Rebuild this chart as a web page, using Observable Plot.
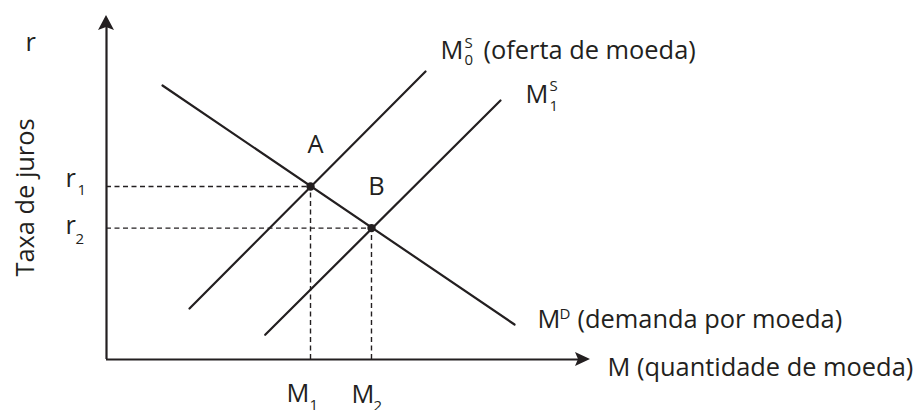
<!DOCTYPE html>
<html><head><meta charset="utf-8">
<script src="https://cdn.jsdelivr.net/npm/d3@7"></script>
<script src="https://cdn.jsdelivr.net/npm/@observablehq/plot@0.6"></script>
<style>html,body{margin:0;padding:0;background:#fff;} svg{display:block}</style>
</head><body><div id="chart"></div>
<script>
// Curves (abstract units: quantity 0–100, interest rate 0–100)
const demand  = [{x: 11.57, y: 79.65}, {x: 84.30, y: 10.17}];
const supply0 = [{x: 17.15, y: 14.83}, {x: 65.91, y: 83.72}];
const supply1 = [{x: 32.79, y: 7.18},  {x: 81.40, y: 75.29}];
// Equilibrium points
const equilibria = [
  {name: "A", x: 42.15, y: 50.3, rateSub: "1", qtySub: "1"},
  {name: "B", x: 54.75, y: 38.2, rateSub: "2", qtySub: "2"}
];
// Texts
const yTitle = "Taxa de juros";
const yTopLabel = "r";
const xTitle = "M (quantidade de moeda)";
const demandLabel = ["M", "D", "(demanda por moeda)"];
const supply0Label = ["M", "S", "0", "(oferta de moeda)"];
const supply1Label = ["M", "S", "1"];

const ink = "#231f20";
const font = "Open Sans";
const big = 25.4, small = 15;

const t = (datum, text, dx, dy, opts = {}) =>
  Plot.text([datum], {x: "x", y: "y", text: () => text, dx, dy,
    fontSize: big, fontFamily: font, fill: ink,
    textAnchor: "start", lineAnchor: "bottom", ...opts});

const yTop = {x: 0, y: 100};
const xEnd = {x: 100, y: 0};
const yMid = {x: 0, y: 47.1};
const dEnd = demand[1], s0End = supply0[1], s1End = supply1[1];
const [A, B] = equilibria;

const arrows = (index, {x, y}) => {
  const g = d3.create("svg:g").attr("fill", ink);
  const ox = x(0), oy = y(0), tx = x(100), ty = y(100);
  g.append("path").attr("d", `M${tx},${oy}L${tx-15},${oy-7}L${tx-12},${oy}L${tx-15},${oy+7}Z`);
  g.append("path").attr("d", `M${ox},${ty}L${ox-8},${ty+15}L${ox},${ty+12}L${ox+8},${ty+15}Z`);
  return g.node();
};

const chart = Plot.plot({
  width: 918, height: 410,
  margin: 0,
  x: {domain: [0, 100], range: [106, 590], axis: null},
  y: {domain: [0, 100], range: [359, 15], axis: null},
  style: {background: "#fff", overflow: "visible"},
  marks: [
    // dashed guides
    Plot.ruleY(equilibria, {y: "y", x1: 0, x2: "x", stroke: ink, strokeWidth: 1.4, strokeDasharray: "5,3.5"}),
    Plot.ruleX(equilibria, {x: "x", y1: 0, y2: "y", stroke: ink, strokeWidth: 1.4, strokeDasharray: "5,3.5"}),
    // axes
    Plot.ruleX([0], {y1: 0, y2: 97, stroke: ink, strokeWidth: 2.2}),
    Plot.ruleY([0], {x1: 0, x2: 98, stroke: ink, strokeWidth: 2.2}),
    arrows,
    // curves
    Plot.line(demand,  {x: "x", y: "y", stroke: ink, strokeWidth: 2.2}),
    Plot.line(supply0, {x: "x", y: "y", stroke: ink, strokeWidth: 2.2}),
    Plot.line(supply1, {x: "x", y: "y", stroke: ink, strokeWidth: 2.2}),
    Plot.dot(equilibria, {x: "x", y: "y", r: 4.2, fill: ink}),
    // point labels
    Plot.text(equilibria, {x: "x", y: "y", text: "name", dx: 5, dy: -33, fontSize: big, fontFamily: font, fill: ink, textAnchor: "middle", lineAnchor: "bottom"}),
    // axis labels
    t(yTop, yTopLabel, -81, 35),
    t(yMid, yTitle, -73, 0, {rotate: -90, textAnchor: "middle"}),
    t(xEnd, xTitle, 17, 16),
    // r1, r2
    t({x: 0, y: A.y}, "r", -41, 1),
    t({x: 0, y: A.y}, A.rateSub, -29, 9, {fontSize: small}),
    t({x: 0, y: B.y}, "r", -41, 5.5),
    t({x: 0, y: B.y}, B.rateSub, -31, 15.5, {fontSize: small}),
    // M1, M2
    t({x: A.x, y: 0}, "M", -24, 42),
    t({x: A.x, y: 0}, A.qtySub, -1, 50, {fontSize: small}),
    t({x: B.x, y: 0}, "M", -20, 43),
    t({x: B.x, y: 0}, B.qtySub, 2, 51, {fontSize: small}),
    // demand label
    t(dEnd, demandLabel[0], 23, 3),
    t(dEnd, demandLabel[1], 45, -6, {fontSize: small}),
    t(dEnd, demandLabel[2], 63, 3),
    // supply 0 label
    t(s0End, supply0Label[0], 15, -13),
    t(s0End, supply0Label[1], 39, -24, {fontSize: small}),
    t(s0End, supply0Label[2], 39, -7, {fontSize: small}),
    t(s0End, supply0Label[3], 58, -13),
    // supply 1 label
    t(s1End, supply1Label[0], 25, 2),
    t(s1End, supply1Label[1], 49, -10, {fontSize: small}),
    t(s1End, supply1Label[2], 49, 10, {fontSize: small})
  ]
});
document.getElementById("chart").append(chart);
</script>
</body></html>
